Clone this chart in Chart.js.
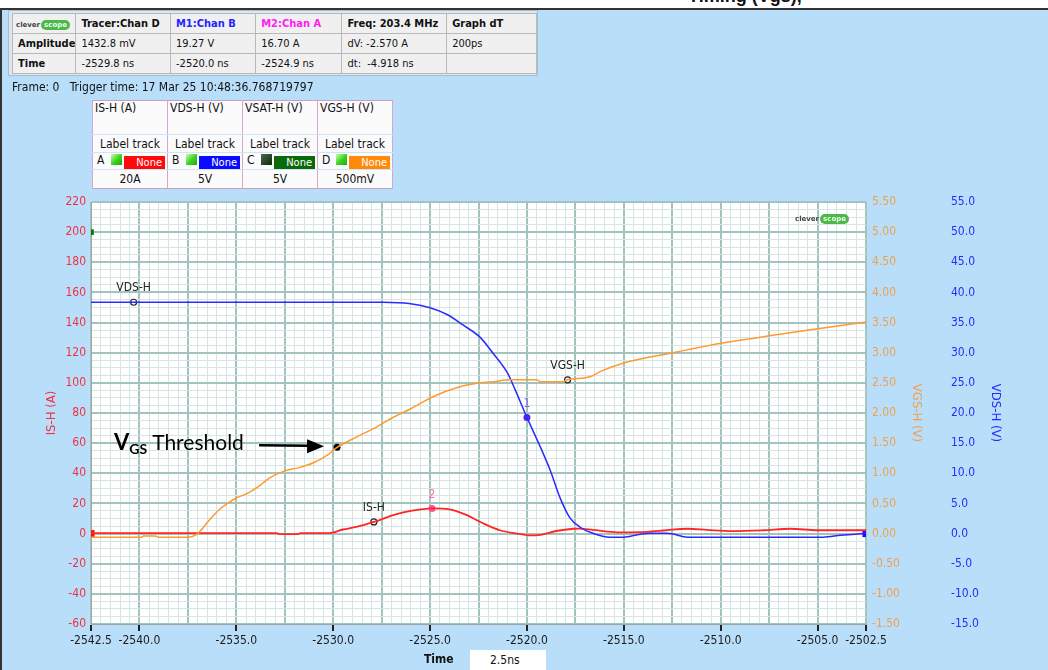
<!DOCTYPE html>
<html>
<head>
<meta charset="utf-8">
<title>IS-H / VDS-H / VGS-H</title>
<script src="https://cdn.jsdelivr.net/npm/chart.js@4.4.1/dist/chart.umd.min.js"></script>
<style>
  body { margin:0; width:1048px; height:670px; overflow:hidden; background:#fff; position:relative;
         font-family:"DejaVu Sans Condensed","DejaVu Sans",sans-serif; font-size:11px; color:#111; }
  #panel { position:absolute; left:0; top:8px; width:1048px; height:662px; background:#b9defa;
           border-left:2px solid #333; border-top:2px solid #333; box-sizing:border-box; }
  #cv { position:absolute; left:0; top:0; }
  #doc { position:absolute; left:688px; top:-14px; font:bold 18px "Liberation Sans",sans-serif; color:#111; }
  #info { position:absolute; left:8px; top:10px; width:530px; height:66px; background:#dde6ee; border:1px solid #aebdcc; box-sizing:border-box; }
  #info table { position:absolute; left:3px; top:2px; border-collapse:collapse; table-layout:fixed; }
  #info td { border:1px solid #b9b9b9; background:#f0f0f0; height:19px; padding:0 0 0 5px; white-space:nowrap; overflow:hidden; font-size:11px; }
  #info b { font-weight:bold; }
  .lg { display:inline-block; font:bold 7px "DejaVu Sans",sans-serif; color:#444; }
  .lg i { font-style:normal; background:#4cb848; color:#e8ffe8; border-radius:5px; padding:1px 3px; margin-left:1px; }
  #frame { position:absolute; left:12px; top:80px; font-size:12px; white-space:pre; }
  #leg { position:absolute; left:92px; top:100px; border-collapse:collapse; table-layout:fixed; background:#fbfbfb; border:1px solid #c79fc7; }
  #leg td { border-left:1px solid #d2a8d2; border-right:1px solid #d2a8d2; padding:0; font-size:12px; white-space:nowrap; overflow:hidden; }
  #leg .r1 td { height:33px; vertical-align:top; padding-left:2px; border-bottom:1px solid #cfe4f4; }
  #leg .r2 td { height:17px; text-align:center; border-bottom:1px solid #cfe4f4; }
  #leg .r3 td { height:15px; border-bottom:1px solid #cfe4f4; padding-left:4px; }
  #leg .r4 td { height:18px; text-align:center; }
  .ch { display:inline-block; width:14px; }
  .sq { display:inline-block; width:11px; height:11px; vertical-align:-1px; background:linear-gradient(135deg,#c8ffa8,#3ad020 55%,#22a814); margin-right:2px; }
  .nn { display:inline-block; width:41px; height:13px; line-height:13px; color:#fff; font-size:11px; text-align:right; padding-right:3px; box-sizing:border-box; vertical-align:-2px; }
  #logo2 { position:absolute; left:795px; top:211px; }
  #tm { position:absolute; left:424px; top:652px; font-weight:bold; font-size:12px; }
  #tb { position:absolute; left:470px; top:650px; width:76px; height:20px; background:#fff; font-size:12px; line-height:20px; padding-left:20px; box-sizing:border-box; }
</style>
</head>
<body>
<div id="doc">Timing (Vgs),</div>
<div id="panel"></div>
<canvas id="cv" width="1048" height="670"></canvas>

<div id="info">
<table>
  <colgroup><col style="width:60px"><col style="width:95px"><col style="width:86px"><col style="width:87px"><col style="width:105px"><col style="width:91px"></colgroup>
  <tr><td style="padding-left:3px"><span class="lg">clever<i>scope</i></span></td><td><b>Tracer:Chan D</b></td><td><b style="color:#2424ff">M1:Chan B</b></td><td><b style="color:#ff20f0">M2:Chan A</b></td><td><b>Freq: 203.4 MHz</b></td><td><b>Graph dT</b></td></tr>
  <tr><td><b>Amplitude</b></td><td>1432.8 mV</td><td>19.27 V</td><td>16.70 A</td><td>dV: -2.570 A</td><td>200ps</td></tr>
  <tr><td><b>Time</b></td><td>-2529.8 ns</td><td>-2520.0 ns</td><td>-2524.9 ns</td><td>dt:&nbsp; -4.918 ns</td><td></td></tr>
</table>
</div>

<div id="frame">Frame: 0   Trigger time: 17 Mar 25 10:48:36.768719797</div>

<table id="leg">
  <colgroup><col style="width:75px"><col style="width:75px"><col style="width:75px"><col style="width:75px"></colgroup>
  <tr class="r1"><td>IS-H (A)</td><td>VDS-H (V)</td><td>VSAT-H (V)</td><td>VGS-H (V)</td></tr>
  <tr class="r2"><td>Label track</td><td>Label track</td><td>Label track</td><td>Label track</td></tr>
  <tr class="r3">
    <td><span class="ch">A</span><span class="sq"></span><span class="nn" style="background:#ff0a0a">None</span></td>
    <td><span class="ch">B</span><span class="sq"></span><span class="nn" style="background:#0a0aff">None</span></td>
    <td><span class="ch">C</span><span class="sq" style="background:linear-gradient(135deg,#4a6a4a,#0d260d)"></span><span class="nn" style="background:#0a6a0a">None</span></td>
    <td><span class="ch">D</span><span class="sq"></span><span class="nn" style="background:#ff8a0a">None</span></td>
  </tr>
  <tr class="r4"><td>20A</td><td>5V</td><td>5V</td><td>500mV</td></tr>
</table>

<div id="logo2"><span class="lg">clever<i>scope</i></span></div>
<div id="tm">Time</div>
<div id="tb">2.5ns</div>

<script>
// time axis (ns)
var xMin = -2542.5, xMax = -2502.5
var xLabelValues = [-2542.5, -2540, -2535, -2530, -2525, -2520, -2515, -2510, -2505, -2502.5]

// IS-H, amps
var isTime = [-2542.5,-2532.9,-2532.8,-2531.8,-2531.7,-2530.2,-2529.5,-2528.8,-2527.9,-2526.9,-2526.0,-2524.9,-2524.0,-2523.1,-2522.3,-2521.4,-2520.5,-2519.9,-2519.3,-2518.5,-2517.6,-2517.3,-2516.6,-2515.2,-2513.8,-2512.8,-2511.7,-2510.7,-2509.4,-2507.8,-2506.4,-2505.0,-2502.5]
var isAmps = [0.3,0.3,-0.4,-0.4,0.3,0.3,2.7,4.4,7.7,12.2,15.0,16.7,16.0,12.2,7.0,2.2,0.0,-1.2,-0.8,1.7,3.2,3.3,2.4,0.8,1.1,2.2,3.2,2.4,1.6,2.2,3.2,2.2,2.2]

// VDS-H, volts
var vdsTime = [-2542.5,-2527.4,-2526.0,-2525.0,-2524.1,-2523.3,-2522.4,-2521.75,-2521.0,-2520.6,-2520.0,-2519.3,-2518.8,-2518.3,-2517.8,-2517.25,-2516.6,-2515.7,-2515.0,-2514.15,-2513.6,-2512.75,-2511.7,-2507.8,-2504.7,-2503.8,-2502.5]
var vdsVolts = [38.37,38.37,38.12,37.46,36.3,34.6,32.5,29.9,26.6,23.8,19.27,14.3,10.5,6.0,2.7,1.05,0.05,-0.6,-0.6,-0.1,0.05,0.05,-0.6,-0.6,-0.6,-0.28,0.05]

// VGS-H, volts
var vgsTime = [-2542.5,-2539.9,-2539.8,-2539.2,-2539.0,-2537.5,-2537.0,-2536.4,-2535.9,-2535.45,-2535.0,-2534.4,-2533.9,-2533.3,-2532.5,-2531.8,-2531.05,-2530.3,-2529.8,-2528.8,-2527.75,-2526.9,-2526.0,-2524.85,-2523.5,-2522.4,-2521.75,-2520.9,-2519.5,-2519.3,-2518.15,-2517.9,-2516.75,-2516.2,-2515.0,-2512.45,-2509.9,-2507.3,-2504.7,-2502.5]
var vgsVolts = [-0.06,-0.06,-0.04,-0.04,-0.06,-0.06,0.0,0.22,0.39,0.50,0.59,0.67,0.77,0.92,1.04,1.09,1.17,1.30,1.43,1.60,1.77,1.93,2.07,2.27,2.43,2.50,2.52,2.55,2.55,2.52,2.52,2.55,2.60,2.69,2.83,3.00,3.16,3.29,3.41,3.51]

// cursor / label points
var m1 = [-2520.0, 19.27]       // VDS
var m2 = [-2524.9, 16.70]       // IS
var tracer = [-2529.8, 1.4328]  // VGS
var vdsTag = [-2540.3, 38.37]
var vgsTag = [-2517.9, 2.55]
var isTag = [-2527.9, 7.7]

function pts(xs, ys) {
    return xs.map(function(x, i){ return {x: x, y: ys[i]} })
}
function pt(p) { return [{x: p[0], y: p[1]}] }

var tickFont = {family: '"DejaVu Sans Condensed","DejaVu Sans",sans-serif', size: 12}
var titleFont = {family: '"DejaVu Sans Condensed","DejaVu Sans",sans-serif', size: 13}
var majorGrid = '#a3c3be', minorGrid = '#d5e5e2'

var plotBg = {
    id: 'plotBg',
    beforeDraw: function(chart){
        var a = chart.chartArea, c = chart.ctx
        c.save(); c.fillStyle = '#ffffff'
        c.fillRect(a.left, a.top, a.right - a.left, a.bottom - a.top)
        c.restore()
    }
}

var tags = {
    id: 'tags',
    afterDatasetsDraw: function(chart){
        var c = chart.ctx
        chart.data.datasets.forEach(function(ds, i){
            var p = chart.getDatasetMeta(i).data[0]
            if (!p) return
            if (ds.tag) {
                c.save()
                c.font = '12px "DejaVu Sans Condensed","DejaVu Sans",sans-serif'
                c.fillStyle = ds.tagColor || '#222'
                c.textAlign = 'center'; c.textBaseline = 'bottom'
                c.fillText(ds.tag, p.x, p.y - 8)
                c.restore()
            }
            if (ds.threshold) {
                c.save()
                // arrow
                c.strokeStyle = '#000'; c.fillStyle = '#000'; c.lineWidth = 2.5
                c.beginPath(); c.moveTo(p.x - 78, p.y - 2); c.lineTo(p.x - 28, p.y - 1.5); c.stroke()
                c.beginPath(); c.moveTo(p.x - 13, p.y - 1); c.lineTo(p.x - 30, p.y - 8); c.lineTo(p.x - 30, p.y + 6); c.closePath(); c.fill()
                // label
                c.textBaseline = 'alphabetic'; c.textAlign = 'left'
                var x0 = p.x - 223
                c.font = 'bold 22px Lato, "Open Sans", sans-serif'
                c.fillText('V', x0, p.y + 3)
                var w = c.measureText('V').width
                c.font = 'bold 14px Lato, "Open Sans", sans-serif'
                c.fillText('GS', x0 + w, p.y + 7)
                var w2 = c.measureText('GS').width
                c.font = '21px Lato, "Open Sans", sans-serif'
                c.fillText('Threshold', x0 + w + w2 + 5, p.y + 3)
                c.restore()
            }
        })
    }
}

var ctx = document.getElementById('cv').getContext('2d')
var scopeChart = new Chart(ctx, {
    type: 'line',
    data: {
        datasets: [
            {label: 'VGS-H', data: pts(vgsTime, vgsVolts), yAxisID: 'yVgs', borderColor: '#ff9a2e', borderWidth: 1.5, pointRadius: 0, cubicInterpolationMode: 'monotone'},
            {label: 'VDS-H', data: pts(vdsTime, vdsVolts), yAxisID: 'yVds', borderColor: '#2a2aff', borderWidth: 1.5, pointRadius: 0, cubicInterpolationMode: 'monotone'},
            {label: 'IS-H', data: pts(isTime, isAmps), yAxisID: 'yA', borderColor: '#ff2626', borderWidth: 1.8, pointRadius: 0, cubicInterpolationMode: 'monotone'},
            // channel position marks
            {data: [{x: xMin, y: 0}], yAxisID: 'yA', showLine: false, pointStyle: 'rect', pointRadius: 5, backgroundColor: '#ff1010', borderWidth: 0},
            {data: [{x: xMin, y: 200}], yAxisID: 'yA', showLine: false, pointStyle: 'rect', pointRadius: 4, backgroundColor: '#0a7a0a', borderWidth: 0},
            {data: [{x: xMax, y: 0}], yAxisID: 'yVds', showLine: false, pointStyle: 'rect', pointRadius: 5, backgroundColor: '#1010ff', borderWidth: 0},
            // trace labels
            {data: pt(vdsTag), yAxisID: 'yVds', showLine: false, pointRadius: 3, borderColor: '#222', backgroundColor: '#fff', borderWidth: 1.2, tag: 'VDS-H'},
            {data: pt(vgsTag), yAxisID: 'yVgs', showLine: false, pointRadius: 3, borderColor: '#222', backgroundColor: '#fff', borderWidth: 1.2, tag: 'VGS-H'},
            {data: pt(isTag), yAxisID: 'yA', showLine: false, pointRadius: 3, borderColor: '#222', backgroundColor: '#fff', borderWidth: 1.2, tag: 'IS-H'},
            // cursors
            {data: pt(m1), yAxisID: 'yVds', showLine: false, pointRadius: 3.5, backgroundColor: '#5a22e6', borderWidth: 0, tag: '1', tagColor: '#8a5cf0'},
            {data: pt(m2), yAxisID: 'yA', showLine: false, pointRadius: 3.5, backgroundColor: '#ff4fa0', borderWidth: 0, tag: '2', tagColor: '#ff6ab4'},
            {data: pt(tracer), yAxisID: 'yVgs', showLine: false, pointRadius: 3.5, backgroundColor: '#000', borderWidth: 0, threshold: true}
        ]
    },
    options: {
        responsive: false,
        animation: false,
        devicePixelRatio: 1,
        layout: {padding: {top: 202, bottom: 16, left: 0, right: 0}},
        plugins: {legend: {display: false}, tooltip: {enabled: false}},
        scales: {
            x: {
                type: 'linear', min: xMin, max: xMax,
                afterFit: function(s){ s.height = 30 },
                ticks: {
                    stepSize: 0.5, autoSkip: false, maxRotation: 0, padding: 3, color: '#1a1a1a', font: tickFont,
                    callback: function(v){ return xLabelValues.indexOf(v) >= 0 ? v.toFixed(1) : '' }
                },
                grid: {
                    color: function(c){ return ((c.tick.value - xMin) % 2.5 === 0) ? majorGrid : minorGrid },
                    lineWidth: function(c){ return ((c.tick.value - xMin) % 2.5 === 0) ? 2 : 1 },
                    tickColor: function(c){ return xLabelValues.indexOf(c.tick.value) >= 0 ? '#222' : 'rgba(0,0,0,0)' },
                    tickLength: 7
                },
                border: {display: true, color: '#9aa8a6'}
            },
            yA: {
                type: 'linear', position: 'left', min: -60, max: 220,
                afterFit: function(s){ s.width = 91 },
                ticks: {
                    stepSize: 5, autoSkip: false, padding: 5, color: '#f3303f', font: tickFont,
                    callback: function(v){ return v % 20 === 0 ? v : '' }
                },
                grid: {
                    color: function(c){ return c.tick.value % 20 === 0 ? majorGrid : minorGrid },
                    lineWidth: function(c){ return c.tick.value % 20 === 0 ? 2 : 1 },
                    drawTicks: false
                },
                border: {display: true, color: '#9aa8a6'},
                title: {display: true, text: 'IS-H (A)', color: '#f3303f', font: titleFont, padding: {top: 44, bottom: 0}}
            },
            yVgs: {
                type: 'linear', position: 'right', min: -1.5, max: 5.5,
                afterFit: function(s){ s.width = 69 },
                ticks: {
                    stepSize: 0.5, autoSkip: false, padding: 6, color: '#f0a04e', font: tickFont,
                    callback: function(v){ return v.toFixed(2) }
                },
                grid: {display: false, drawTicks: false},
                border: {display: false},
                title: {display: true, text: 'VGS-H (V)', color: '#f0a04e', font: titleFont, padding: {top: 11, bottom: 0}}
            },
            yVds: {
                type: 'linear', position: 'right', min: -15, max: 55,
                afterFit: function(s){ s.width = 113 },
                ticks: {
                    stepSize: 5, autoSkip: false, padding: 16, color: '#2a2aff', font: tickFont,
                    callback: function(v){ return v.toFixed(1) }
                },
                grid: {display: false, drawTicks: false},
                border: {display: false},
                title: {display: true, text: 'VDS-H (V)', color: '#2a2aff', font: titleFont, padding: {top: 45, bottom: 0}}
            }
        }
    },
    plugins: [plotBg, tags]
})
</script>
</body>
</html>
